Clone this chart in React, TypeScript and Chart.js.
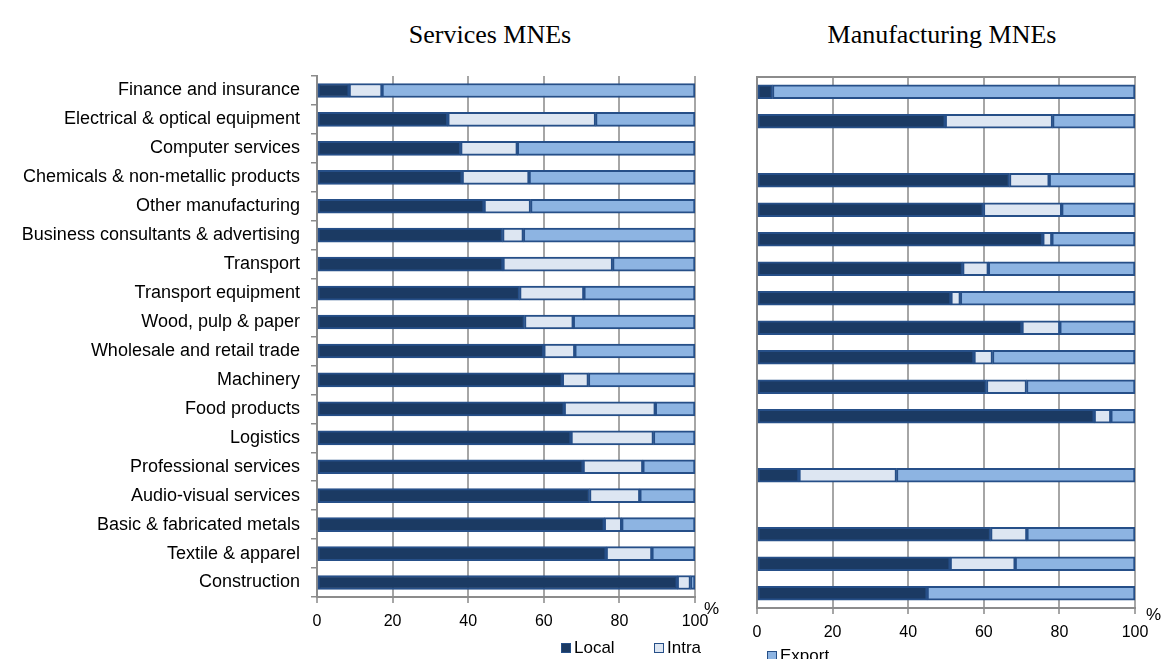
import React, { useEffect, useRef } from 'react';
import { Chart, registerables } from 'chart.js';
Chart.register(...registerables);

const categories = [
  'Finance and insurance',
  'Electrical & optical equipment',
  'Computer services',
  'Chemicals & non-metallic products',
  'Other manufacturing',
  'Business consultants & advertising',
  'Transport',
  'Transport equipment',
  'Wood, pulp & paper',
  'Wholesale and retail trade',
  'Machinery',
  'Food products',
  'Logistics',
  'Professional services',
  'Audio-visual services',
  'Basic & fabricated metals',
  'Textile & apparel',
  'Construction',
];

const servicesLocal = [8.5, 34.6, 38.0, 38.4, 44.2, 49.1, 49.2, 53.6, 54.9, 60.0, 64.9, 65.4, 67.2, 70.4, 72.1, 76.0, 76.5, 95.3];
const servicesIntra = [8.7, 39.1, 15.0, 17.7, 12.3, 5.5, 29.0, 17.0, 12.9, 8.2, 6.9, 24.1, 21.8, 15.8, 13.3, 4.6, 12.1, 3.5];
const servicesExport = [82.8, 26.3, 47.0, 43.9, 43.5, 45.4, 21.8, 29.4, 32.2, 31.8, 28.2, 10.5, 11.0, 13.8, 14.6, 19.4, 11.4, 1.2];

const manufLocal = [4.1, 49.8, null, 66.8, 59.9, 75.6, 54.4, 51.3, 70.1, 57.4, 60.7, 89.2, null, 11.1, null, 61.8, 51.1, 45.0];
const manufIntra = [null, 28.4, null, 10.5, 20.7, 2.4, 6.8, 2.5, 10.0, 4.9, 10.6, 4.4, null, 25.8, null, 9.6, 17.2, null];
const manufExport = [95.9, 21.8, null, 22.7, 19.4, 22.0, 38.8, 46.2, 19.9, 37.7, 28.7, 6.4, null, 63.1, null, 28.6, 31.7, 55.0];

const xTicks = [0, 20, 40, 60, 80, 100];
const seriesNames = ['Local', 'Intra', 'Export'];

const COLORS = ['#1b3a63', '#dde6f2', '#8db4e2'];
const BORDER = '#264f88';
const GRID = '#a6a6a6';
const AXIS = '#8c8c8c';
const SANS = '"Liberation Sans", Arial, sans-serif';

function makeDatasets(local: (number | null)[], intra: (number | null)[], exp: (number | null)[]) {
  return [local, intra, exp].map((d, i) => ({
    label: seriesNames[i],
    data: d,
    backgroundColor: COLORS[i],
    borderColor: BORDER,
    borderWidth: 2,
    borderSkipped: false,
    barThickness: 14,
  }));
}

const topBorder = {
  id: 'topBorder',
  afterDraw(chart: any) {
    const { ctx, chartArea } = chart;
    ctx.save();
    ctx.strokeStyle = AXIS;
    ctx.lineWidth = 2;
    ctx.beginPath();
    ctx.moveTo(chartArea.left - 1, chartArea.top);
    ctx.lineTo(chartArea.right + 1, chartArea.top);
    ctx.stroke();
    ctx.restore();
  },
};

function buildOptions(opts: { showLabels: boolean; yWidth: number; xHeight: number; padTop: number; padRight: number }) {
  return {
    indexAxis: 'y' as const,
    animation: false as const,
    responsive: false,
    layout: { padding: { top: opts.padTop, right: opts.padRight, left: 0, bottom: 0 } },
    plugins: { legend: { display: false }, tooltip: { enabled: false }, title: { display: false } },
    scales: {
      x: {
        type: 'linear' as const,
        stacked: true,
        min: 0,
        max: 100,
        afterBuildTicks: (s: any) => {
          s.ticks = xTicks.map((v) => ({ value: v }));
        },
        ticks: { color: '#000', font: { family: SANS, size: 16 }, padding: 9 },
        grid: { color: GRID, lineWidth: 2, tickLength: 6, drawTicks: true },
        border: { display: true, color: AXIS, width: 2 },
        afterFit: (s: any) => {
          s.height = opts.xHeight;
        },
      },
      y: {
        type: 'category' as const,
        stacked: true,
        ticks: {
          display: opts.showLabels,
          color: '#000',
          font: { family: SANS, size: 18 },
          padding: 11,
          autoSkip: false,
        },
        grid: {
          display: opts.showLabels,
          drawOnChartArea: false,
          offset: true,
          tickLength: 6,
          color: AXIS,
          lineWidth: 1.5,
        },
        border: { display: true, color: AXIS, width: 2 },
        afterFit: (s: any) => {
          s.width = opts.yWidth;
        },
      },
    },
  };
}

function ChartCanvas(props: {
  width: number;
  height: number;
  left: number;
  local: (number | null)[];
  intra: (number | null)[];
  exp: (number | null)[];
  showLabels: boolean;
  yWidth: number;
  xHeight: number;
  padTop: number;
  padRight: number;
  box: boolean;
}) {
  const ref = useRef<HTMLCanvasElement | null>(null);
  useEffect(() => {
    if (!ref.current) return;
    const chart = new Chart(ref.current, {
      type: 'bar',
      data: { labels: categories, datasets: makeDatasets(props.local, props.intra, props.exp) as any },
      options: buildOptions(props) as any,
      plugins: props.box ? [topBorder] : [],
    });
    return () => chart.destroy();
  }, []);
  return (
    <canvas
      ref={ref}
      width={props.width}
      height={props.height}
      style={{ position: 'absolute', left: props.left, top: 0, width: props.width, height: props.height }}
    />
  );
}

function LegendItem({ color, label, left, top }: { color: string; label: string; left: number; top: number }) {
  return (
    <div style={{ position: 'absolute', left, top, display: 'flex', alignItems: 'center', fontFamily: SANS, fontSize: 17, color: '#000', whiteSpace: 'nowrap', lineHeight: '18px' }}>
      <span style={{ display: 'inline-block', width: 8, height: 8, background: color, border: `1px solid ${BORDER}`, marginRight: 3 }} />
      {label}
    </div>
  );
}

export default function App() {
  return (
    <div style={{ position: 'absolute', left: 0, top: 0, width: 1161, height: 659, overflow: 'hidden', background: '#fff' }}>
      <div style={{ position: 'absolute', left: 340, width: 300, top: 22, textAlign: 'center', fontFamily: '"Liberation Serif", "Times New Roman", serif', fontSize: 26, lineHeight: '26px', color: '#000' }}>
        Services MNEs
      </div>
      <div style={{ position: 'absolute', left: 792, width: 300, top: 22, textAlign: 'center', fontFamily: '"Liberation Serif", "Times New Roman", serif', fontSize: 26, lineHeight: '26px', color: '#000' }}>
        Manufacturing MNEs
      </div>
      <ChartCanvas
        width={730}
        height={659}
        left={0}
        local={servicesLocal}
        intra={servicesIntra}
        exp={servicesExport}
        showLabels={true}
        yWidth={317}
        xHeight={62}
        padTop={76}
        padRight={35}
        box={false}
      />
      <ChartCanvas
        width={431}
        height={659}
        left={730}
        local={manufLocal}
        intra={manufIntra}
        exp={manufExport}
        showLabels={false}
        yWidth={27}
        xHeight={51}
        padTop={77}
        padRight={26}
        box={true}
      />
      <div style={{ position: 'absolute', left: 704, top: 599, fontFamily: SANS, fontSize: 17, color: '#000' }}>%</div>
      <div style={{ position: 'absolute', left: 1146, top: 605, fontFamily: SANS, fontSize: 17, color: '#000' }}>%</div>
      <LegendItem color={COLORS[0]} label="Local" left={561} top={639} />
      <LegendItem color={COLORS[1]} label="Intra" left={654} top={639} />
      <LegendItem color={COLORS[2]} label="Export" left={767} top={647} />
    </div>
  );
}
